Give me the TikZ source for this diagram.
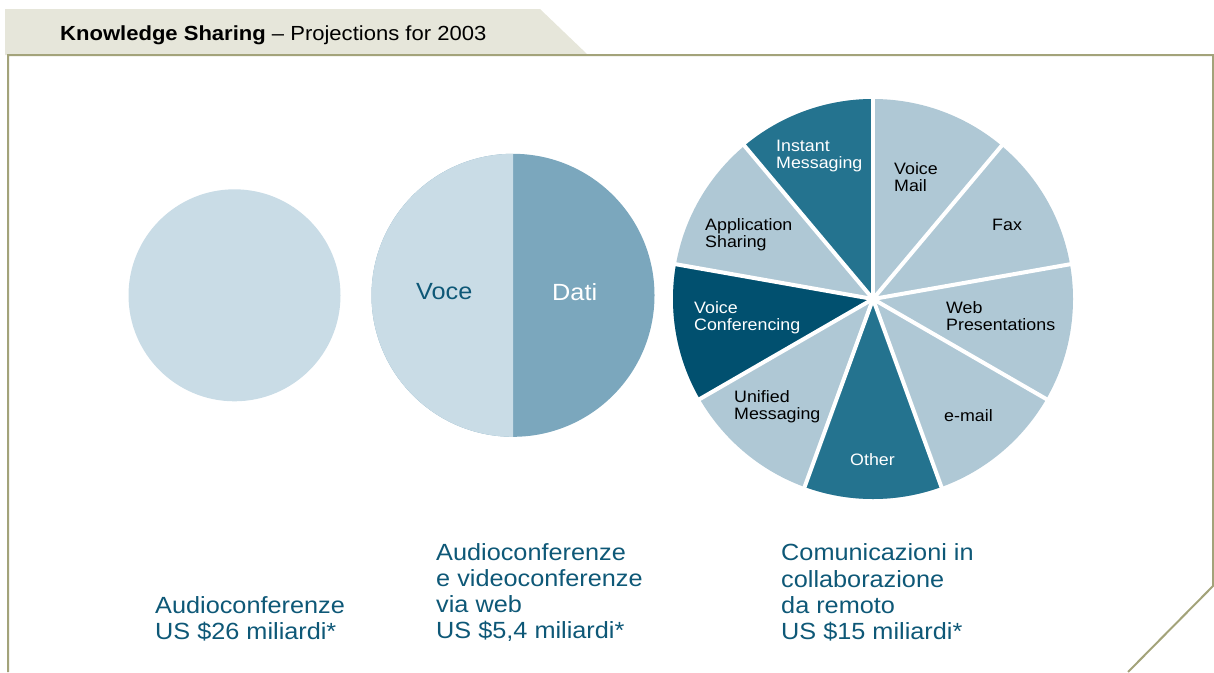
\documentclass[tikz,border=0pt]{standalone}
\usepackage{fontspec}
\setmainfont[FakeStretch=1.08]{Liberation Sans}
\definecolor{lightc}{HTML}{C9DCE6}
\definecolor{datic}{HTML}{7BA7BD}
\definecolor{pielight}{HTML}{AFC8D5}
\definecolor{piemed}{HTML}{24738F}
\definecolor{piedark}{HTML}{01506F}
\definecolor{txtteal}{HTML}{0E5877}
\definecolor{framec}{HTML}{A3A37A}
\definecolor{tabfill}{HTML}{E6E6DA}
\begin{document}
\begin{tikzpicture}[x=1pt,y=-1pt,
  pielabel/.style={anchor=west, align=left, inner sep=0pt, font=\fontsize{16.5}{17}\selectfont, text=black},
  pielabelw/.style={pielabel, text=white},
  biglabel/.style={anchor=west, align=left, inner sep=0pt, font=\fontsize{23.4}{26.3}\selectfont, text=txtteal},
  sep/.style={white, line width=4pt}]
\useasboundingbox (0,0) rectangle (1214,672);
% header tab and frame
\fill[tabfill] (5,9) -- (540,9) -- (588,55) -- (5,55) -- cycle;
\draw[framec, line width=2pt] (8,672) -- (8,55) -- (1213,55) -- (1213,586) -- (1128,672);
\node[anchor=base west, inner sep=0pt, font=\fontsize{20.4}{22}\selectfont] (title) at (60,40)
  {\textbf{Knowledge Sharing} – Projections for 2003};
% circle 1
\coordinate (c1) at (234.5,295.3);
\fill[lightc] (c1) circle[radius=106];
% circle 2
\coordinate (c2) at (513,295.3);
\fill[datic] (c2) circle[radius=141.5];
\fill[lightc] (c2) -- ++(-90:141.5) arc[start angle=-90, end angle=-270, radius=141.5] -- cycle;
\node[biglabel] (voce) at (416,292) {Voce};
\node[biglabel, text=white] (dati) at (552,292) {Dati};
% pie
\coordinate (pc) at (873,299);
\fill[pielight] (pc) circle[radius=200];
\fill[piemed] (pc) -- ++(-90:200) arc[start angle=-90, end angle=-130, radius=200] -- cycle;
\fill[piedark] (pc) -- ++(-170:200) arc[start angle=-170, end angle=-210, radius=200] -- cycle;
\fill[piemed] (pc) -- ++(110:200) arc[start angle=110, end angle=70, radius=200] -- cycle;
\foreach \a in {90,50,10,-30,-70,-110,-150,170,130}
  \draw[sep] (pc) -- ++(-\a:201);
\node[pielabelw] (im) at (776,156) {Instant\\Messaging};
\node[pielabel] (vm) at (894,177) {Voice\\Mail};
\node[pielabel] (fax) at (992,224.5) {Fax};
\node[pielabel] (web) at (946,316) {Web\\Presentations};
\node[pielabel] (email) at (944,415.5) {e-mail};
\node[pielabelw, anchor=center] (other) at (872.5,459.5) {Other};
\node[pielabel] (um) at (734,407) {Unified\\Messaging};
\node[pielabelw] (vc) at (694,318) {Voice\\Conferencing};
\node[pielabel] (as) at (705,235) {Application\\Sharing};
% bottom labels
\node[biglabel] (l1) at (155,618.5) {Audioconferenze\\US \$26 miliardi*};
\node[biglabel] (l2) at (436,592.5) {Audioconferenze\\e videoconferenze\\via web\\US \$5,4 miliardi*};
\node[biglabel] (l3) at (781,592.5) {Comunicazioni in\\collaborazione\\da remoto\\US \$15 miliardi*};
\end{tikzpicture}
\end{document}
